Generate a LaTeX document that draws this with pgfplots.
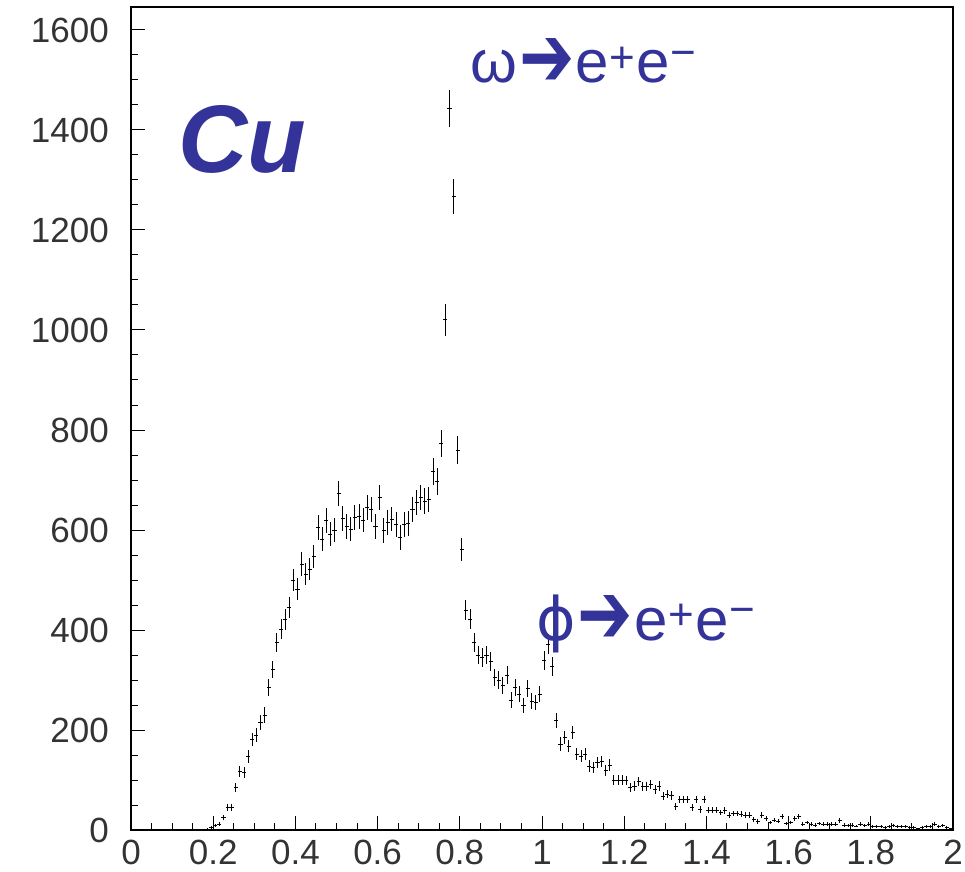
\documentclass[border=0pt]{standalone}
\usepackage{fontspec}
\setmainfont{Liberation Sans}
\newfontfamily\dejavu{DejaVu Sans}
\usepackage{pgfplots}
\usepackage{pgfplotstable}
\pgfplotsset{compat=1.18}

\definecolor{labelblue}{RGB}{51,51,153}

% dielectron invariant-mass spectrum, 10 MeV bins (bin centre, counts)
\pgfplotstableread{
x n
0.175 1
0.185 2
0.195 5
0.205 9
0.215 12
0.225 25
0.235 45
0.245 45
0.255 85
0.265 117
0.275 115
0.285 147
0.295 181
0.305 190
0.315 215
0.325 230
0.335 285
0.345 321
0.355 375
0.365 402
0.375 421
0.385 445
0.395 500
0.405 482
0.415 532
0.425 512
0.435 522
0.445 547
0.455 605
0.465 582
0.475 619
0.485 592
0.495 600
0.505 673
0.515 623
0.525 607
0.535 602
0.545 625
0.555 627
0.565 620
0.575 645
0.585 641
0.595 607
0.605 665
0.615 599
0.625 615
0.635 622
0.645 611
0.655 585
0.665 611
0.675 613
0.685 641
0.695 655
0.705 665
0.715 658
0.725 661
0.735 717
0.745 697
0.755 773
0.765 1020
0.775 1443
0.785 1267
0.795 760
0.805 561
0.815 440
0.825 422
0.835 375
0.845 350
0.855 345
0.865 350
0.875 337
0.885 305
0.895 300
0.905 289
0.915 310
0.925 260
0.935 285
0.945 272
0.955 249
0.965 283
0.975 258
0.985 255
0.995 272
1.005 339
1.015 372
1.025 327
1.035 219
1.045 172
1.055 185
1.065 168
1.075 195
1.085 152
1.095 148
1.105 152
1.115 128
1.125 125
1.135 135
1.145 137
1.155 119
1.165 130
1.175 100
1.185 100
1.195 100
1.205 99
1.215 85
1.225 88
1.235 97
1.245 87
1.255 87
1.265 91
1.275 81
1.285 88
1.295 68
1.305 72
1.315 69
1.325 47
1.335 61
1.345 61
1.355 61
1.365 45
1.375 61
1.385 41
1.395 61
1.405 40
1.415 40
1.425 40
1.435 35
1.445 39
1.455 30
1.465 33
1.475 33
1.485 32
1.495 30
1.505 30
1.515 21
1.525 17
1.535 30
1.545 23
1.555 15
1.565 20
1.575 18
1.585 27
1.595 13
1.605 15
1.615 23
1.625 27
1.635 12
1.645 15
1.655 12
1.665 10
1.675 13
1.685 12
1.695 12
1.705 12
1.715 12
1.725 19
1.735 10
1.745 9
1.755 10
1.765 8
1.775 12
1.785 9
1.795 12
1.805 7
1.815 7
1.825 7
1.835 5
1.845 7
1.855 9
1.865 7
1.875 7
1.885 7
1.895 5
1.905 5
1.915 3
1.925 5
1.935 7
1.945 7
1.955 12
1.965 7
1.975 9
1.985 5
1.995 3
}\spectrum

\newcommand{\supsize}{\fontsize{44}{44}\selectfont}
\newcommand{\epem}{e\hspace{1pt}\raisebox{0.17em}{\supsize +}\hspace{1pt}e\hspace{1pt}\raisebox{0.26em}{\supsize −}}
\newcommand{\bigarrow}{\hspace{2pt}\raisebox{-0.06em}{\scalebox{1.1}[1.45]{\dejavu ➔}}\hspace{1pt}}

\begin{document}
\begin{tikzpicture}
\useasboundingbox (0,0) rectangle (965pt,871pt);
\begin{axis}[
  at={(131pt,41pt)}, anchor=south west,
  width=822pt, height=823pt, scale only axis,
  xmin=0, xmax=2, ymin=0, ymax=1646,
  xtick={0,0.2,0.4,0.6,0.8,1,1.2,1.4,1.6,1.8,2},
  xticklabels={0,0.2,0.4,0.6,0.8,1,1.2,1.4,1.6,1.8,2},
  ytick={0,200,400,600,800,1000,1200,1400,1600},
  yticklabels={0,200,400,600,800,1000,1200,1400,1600},
  minor x tick num=3, minor y tick num=3,
  tick align=inside, xtick pos=left, ytick pos=left,
  major tick length=14pt, minor tick length=7pt,
  tick style={black, line width=1pt},
  axis line style={black, line width=1.6pt},
  ticklabel style={font=\fontsize{35}{35}\selectfont, inner sep=0pt, text=black!80},
  xticklabel style={yshift=-10pt, text depth=0pt},
  yticklabel style={xshift=-22pt},
  /pgf/number format/assume math mode=true,
]
\addplot[draw=none, mark=none,
  error bars/.cd, x dir=both, x fixed=0.005, y dir=both, y explicit,
  error mark=none, error bar style={draw=black, line width=1pt}]
  table[x=x, y=n, y error expr=sqrt(\thisrow{n})] {\spectrum};
\end{axis}
\node[anchor=base west, inner sep=0pt, text=labelblue,
  font=\fontsize{96}{96}\selectfont\bfseries\itshape] at (178pt,698pt) {Cu};
\node[anchor=base west, inner sep=0pt, text=labelblue,
  font=\fontsize{60}{60}\selectfont] at (470pt,788pt) {ω\bigarrow\epem};
\node[anchor=base west, inner sep=0pt, text=labelblue,
  font=\fontsize{60}{60}\selectfont] at (536pt,231pt) {{\dejavu ϕ}\bigarrow\epem};
\end{tikzpicture}
\end{document}
